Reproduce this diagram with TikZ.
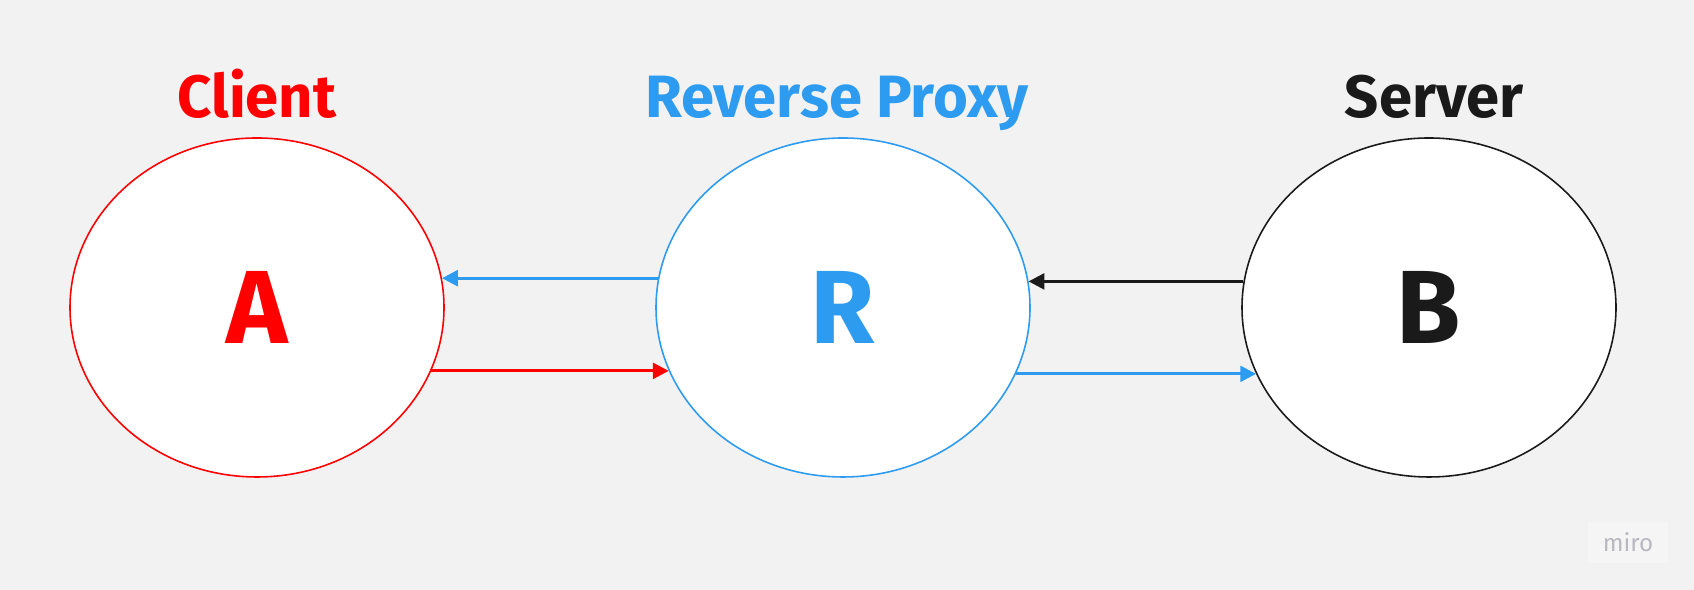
\documentclass[tikz,border=0pt]{standalone}
\usepackage{fontspec}
\setmainfont{Fira Sans}
\usetikzlibrary{shapes.geometric,positioning,arrows.meta}
\definecolor{rojocli}{RGB}{255,0,0}
\definecolor{azulprox}{RGB}{45,155,240}
\definecolor{negroserv}{RGB}{26,26,26}
\definecolor{fondo}{RGB}{242,242,242}
\definecolor{cajamiro}{RGB}{245,245,245}
\definecolor{grismiro}{RGB}{184,184,192}

\begin{document}
\begin{tikzpicture}[
    circulo/.style={ellipse, fill=white, line width=0.45pt, minimum width=3.74cm, minimum height=3.39cm, inner sep=0pt, font=\fontsize{29.6}{31}\selectfont\bfseries},
    titulo/.style={font=\fontsize{17}{19}\selectfont\bfseries, inner sep=0pt},
    flecha/.style={-{Triangle[length=4.5pt,width=4.5pt]}, line width=0.85pt}
]

    % FONDO
    \fill[fondo] (0,0) rectangle (16.94,-5.90);
    \useasboundingbox (0,0) rectangle (16.94,-5.90);

    % CLIENTE
    \node[circulo, draw=rojocli, text=rojocli] (A) at (2.57,-3.075) {A};
    \node[titulo, text=rojocli, above=0.2cm of A, anchor=base] (clientelbl) {Client};

    % PROXY
    \node[circulo, draw=azulprox, text=azulprox] (R) at (8.43,-3.075) {R};
    \node[titulo, text=azulprox, above=0.2cm of R, anchor=base, xshift=-0.06cm] (proxylbl) {Reverse Proxy};

    % SERVIDOR
    \node[circulo, draw=negroserv, text=negroserv] (B) at (14.29,-3.075) {B};
    \node[titulo, text=negroserv, above=0.2cm of B, anchor=base, xshift=0.05cm] (servidorlbl) {Server};

    % FLECHAS
    \draw[flecha, azulprox] (R.171) -- (A.9);
    \draw[flecha, rojocli] (A.-20) -- (R.200);
    \draw[flecha, negroserv] (B.172) -- (R.8);
    \draw[flecha, azulprox] (R.-21) -- (B.201);

    % MARCA
    \node[fill=cajamiro, minimum width=0.8cm, minimum height=0.41cm, inner sep=0pt, text=grismiro, font=\fontsize{6.9}{8}\selectfont] (marca) at (16.28,-5.425) {miro};

\end{tikzpicture}
\end{document}
